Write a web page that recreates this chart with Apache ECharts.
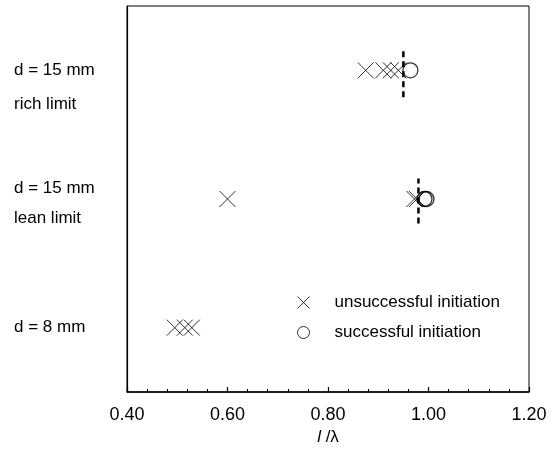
<!DOCTYPE html>
<html>
<head>
<meta charset="utf-8">
<script src="https://cdn.jsdelivr.net/npm/echarts@6/dist/echarts.min.js"></script>
<style>
  html, body { margin: 0; padding: 0; background: #fff; }
  #main { width: 554px; height: 452px; }
</style>
</head>
<body>
<div id="main"></div>
<script>
// rows (y position of each case on a 0..3 scale)
const rowY = [2.5, 1.5, 0.5];
const rowLabels = [['d = 15 mm', 'rich limit'], ['d = 15 mm', 'lean limit'], ['d = 8 mm']];

// l/lambda values per row
const failRich = [0.875, 0.91, 0.925, 0.94];
const failLean = [0.60, 0.972, 0.977];
const fail8mm = [0.495, 0.515, 0.529];
const okRich = [0.964];
const okLean = [0.992, 0.996];

// dashed limit markers: x value, y extent
const limitRich = { x: 0.95, y: [2.29, 2.68] };
const limitLean = { x: 0.98, y: [1.31, 1.66] };

const xTicks = { min: 0.4, max: 1.2, interval: 0.2 };

const toPts = (xs, y) => xs.map(v => [v, y]);
const fail = [].concat(toPts(failRich, rowY[0]), toPts(failLean, rowY[1]), toPts(fail8mm, rowY[2]));
const ok = [].concat(toPts(okRich, rowY[0]), toPts(okLean, rowY[1]));

const FONT = 'Liberation Sans, Arial, sans-serif';
const myChart = echarts.init(document.getElementById('main'));

const option = {
  animation: false,
  backgroundColor: '#fff',
  grid: {
    left: 127, right: 25, top: 6, bottom: 60,
    outerBoundsMode: 'none',
    show: true, borderColor: '#000', borderWidth: 1,
  },
  legend: {
    orient: 'vertical',
    left: 295, top: 294,
    padding: 0,
    itemWidth: 12, itemHeight: 12, itemGap: 13,
    data: ['unsuccessful initiation', 'successful initiation'],
    itemStyle: { borderWidth: 1 },
    textStyle: { fontFamily: FONT, fontSize: 17, color: '#000', padding: [0, 0, 0, 20] },
  },
  xAxis: {
    type: 'value',
    min: xTicks.min, max: xTicks.max, interval: xTicks.interval,
    name: '{i|l} /λ',
    nameLocation: 'middle',
    nameGap: 37,
    nameTextStyle: {
      fontFamily: FONT, fontSize: 17, color: '#000',
      rich: { i: { fontFamily: FONT, fontSize: 17, fontStyle: 'italic', color: '#000' } },
    },
    axisLine: { lineStyle: { color: '#000', width: 1.5 } },
    axisTick: { inside: true, length: 5, lineStyle: { color: '#000', width: 1.2 } },
    minorTick: { show: true, splitNumber: 5, length: 3, lineStyle: { color: '#000', width: 1 } },
    axisLabel: { fontFamily: FONT, fontSize: 18, color: '#000', margin: 14, formatter: v => v.toFixed(2) },
    splitLine: { show: false },
  },
  yAxis: {
    type: 'value',
    min: 0, max: 3,
    axisLine: { show: true, lineStyle: { color: '#000', width: 1.2 } },
    axisTick: { show: false },
    axisLabel: { show: false },
    splitLine: { show: false },
  },
  series: [
    {
      name: 'unsuccessful initiation',
      type: 'scatter',
      symbol: 'path://M0,0L10,10M10,0L0,10',
      symbolSize: 16,
      itemStyle: { color: 'none', borderColor: '#000', borderWidth: 1 },
      data: fail,
      z: 3,
    },
    {
      name: 'successful initiation',
      type: 'scatter',
      symbol: 'circle',
      symbolSize: 15,
      itemStyle: { color: 'rgba(255,255,255,0)', borderColor: '#000', borderWidth: 1.3 },
      data: ok,
      z: 3,
    },
    {
      type: 'line',
      symbol: 'none',
      lineStyle: { color: '#000', width: 2.5, type: [6, 4] },
      data: [[limitRich.x, limitRich.y[0]], [limitRich.x, limitRich.y[1]]],
      z: 4,
    },
    {
      type: 'line',
      symbol: 'none',
      lineStyle: { color: '#000', width: 2.5, type: [6, 4] },
      data: [[limitLean.x, limitLean.y[0]], [limitLean.x, limitLean.y[1]]],
      z: 4,
    },
  ],
};

myChart.setOption(option);

// row labels on the left, placed relative to each row
const offsets = [[0, 34], [-10, 20], [0]];
const texts = [];
rowY.forEach((y, i) => {
  const py = myChart.convertToPixel({ gridIndex: 0 }, [0.4, y])[1];
  rowLabels[i].forEach((t, j) => {
    texts.push({
      type: 'text', left: 14, top: py + offsets[i][j] - 9,
      style: { text: t, font: '17px ' + FONT, fill: '#000' },
    });
  });
});
myChart.setOption({ graphic: texts });
</script>
</body>
</html>
